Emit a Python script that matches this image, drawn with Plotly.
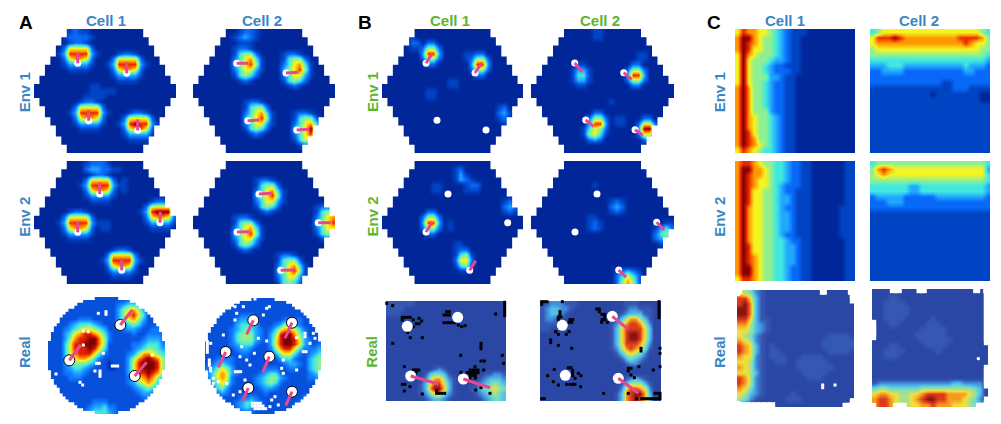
import plotly.graph_objects as go

# ---------- heat levels (0-9), one string per row; spaces only group the digits, short rows are padded ----------
A_E1_C1 = ["00000112110","00000122221","000000122100","000002666620","000013888831000122100",
"000002677620002666620","000001333310013888831","000000111100002677620","000000000000001333310",
"000000000000000111100","000000000011","000000000011111","00000000011110","00000000122100",
"00000002666620","00000013888831000122100","00000002677620002666620","00000001333310013898831",
"00000000111100002678620","00000000000000001333310","00000000000000000111100","",""]
A_E1_C2 = ["00000000 1221","0000000 12321","00000000 1110","0000000 1221","0000000 14552 0000 1221",
"0000000 246741 000 14552","0000000 356851 000 246741","0000000 246631 000 356851","0000000 14542 0000 246631",
"0000000 0121 00000 14542","0000000000000000 0121","","",
"000000000 1221","000000000 14552","000000000 246741 000 1221","000000000 356851 000 14552",
"000000000 246631 000 246741","000000000 14542 0000 356951","000000000 0121 00000 246841",
"000000000000000000 14642","000000000000000000 0121",""]
A_E2_C1 = ["000000000 12221 00","000000000 2332211","00000000 00122100","00000000 02666620 1","00000000 13888831 1",
"00000000 02677620 1","00000000 01333310","00000000 00111100 000 00122100","0000000000000000000 02666620",
"0000 00122100 0000000 13899931","0000 02666620 0000000 02677620","0000 13888831 110 0000 01333310",
"0000 02677620 110 0000 00111100","0000 01333310","0000 00111100","","000000000000 00122100",
"000000000000 02666620","000000000000 13888831","000000000000 02677620","000000000000 01333310","000000000000 00111100",""]
A_E2_C2 = ["","","","00000000000 1221","00000000000 14552","00000000000 246741","00000000000 356851",
"00000000000 246631","00000000000 14542 000000 1221","00000000000 0121 0000000 14552",
"0000000 1221 00000000000 246741","0000000 14552 0000000000 356851","0000000 246741 000000000 246631",
"0000000 356851 000000000 14542","0000000 246631 000000000 0121","0000000 14542","0000000 0121",
"000000000000000 1221","000000000000000 14552","000000000000000 246741","000000000000000 356851",
"000000000000000 246631","000000000000000 14542"]
B_E1_C1 = ["","00000100","00000 22 0220","00000 11 2552","0000000 3883 0000 1 1220","0000000 2552 0000 1 2552",
"0000000 0220 00000 3883","0000000000000000 2552","0000000000000000 0220","000000000000110","000000000000110",
"000000001100","000000001100","","000000000000000000000120","000000000000000000000231","0000000000000000000001210",
"000000000000000000000011","","","","",""]
B_E1_C2 = ["00000000000110","00000000000110","","","0000000000000000000110","0000000000000000000110",
"0000000 0110 000000 0220","0000000 1331 000000 2552","0000000 1441 000000 3883","0000000 1331 000000 2552",
"0000000 0110 000000 0220","","","000000000000001","","0000000000 0220","0000000000 2552 0 11 00 0220",
"0000000000 3883 0 11 00 2662","000000000 14652 00000 3993","000000000 15641 00000 2662",
"000000000 02320 00000 0220","",""]
B_E2_C1 = ["","000000000000012","0000000000000131","00000000000001321","000000000110000122",
"000000000110000111","","0000000000000000000000121","0000000000000000000000232",
"0000000 0220 00000000000 121","0000000 2552","0000000 3883 01","0000000 2552 01","0000000 0220","",
"000000000000011","0000000000000 122","0000000000000 1451","0000000000000 2662","0000000000000 1451",
"0000000000000 0110","",""]
B_E2_C2 = ["","","","","000000000001","","","00000000000000121","00000000000000232","00000000000000121","000000000011",
"00000000001210000000000011","00000000001210000000001342","00000000000000000000002453",
"00000000000000000000002342","00000000000000000000000111","","","","","00000000000000012321",
"00000000000000024642","00000000000000025752"]
C_E1_C1 = ["6877665432111","7997655432110","7987655432110","7986655432110","6976555432110","6965554332110",
"6965543221110","696554322211","696555332110","696554322110","797554322110","797554322110","797554322110",
"797554322110","797555322110","797655432110","797655432110","797655432110","798655432110","798755432110",
"798765432110","687654432110"]
C_E1_C2 = ["4566666666666666666654","6888987777777777888875","6777777777777777787665","5666666666666666666655",
"5555555555555555555554","4444444444444444444443","3334443333333333343332","2233332222222222233222",
"2222222222222222222222","2222222222222112222222","1111111111111112221111","1111111111101111111100",
"1111111111111111111100","1111111111111111111111","1111111111111111111111","1111111111111111111111",
"1111111111111111111111","1111111111111111111111","1111111111111111111111","1111111111111111111111",
"1111111111111111111111","1111111111111111111111"]
C_E2_C1 = ["7887655443221100000011","7997765443221100000011","7987765443221100000011","7987665443221100000011",
"7987665432221100000011","7986655432211100000011","7986655433211100000011","7986655433211100000011",
"7976655432211100000111","7976655433211100000111","7976655433211100000111","7976655433211100000111",
"7976655433211100000111","7976655432211100000111","7976655443221100000011","7986655443321100000011",
"7986655443321100000011","7987655443321100000011","7987655443321100000011","7997655443221100000011",
"7997655443221100000011","6887655443221100000011"]
C_E2_C2 = ["4555555555555555555554","5787666666666666666663","5676666666666666666664","5555555555555555555554",
"4444444334444444444443","4444444334444444444443","2333332222223333333332","2223332222222222222222",
"2222222222222222222222","1111111111111111111111","1111111111111111111111","1111111111111111111111",
"1111111111111111111111","1111111111111111111111","1111111111111111111111","1111111111111111111111",
"1111111111111111111111","1111111111111111111111","1111111111111111111111","1111111111111111111111",
"1111111111111111111111","1111111111111111111111"]
A_R_C1 = ["111111111111111122211111","111111111111112344321111","111111111111113567531111","111111111111113578641111",
"111111222111113567531111","111123444321112345421111","111234566543111233211222","111346788764211112112222",
"111357889975211111123332","111468899975111112234442","111468889864111112345543","111467888642111123577654",
"111356776421111135789875","111345554311011136899985","111234432111001136899985","111223321111111135889875",
"111122211111111124678753","111111111111111123567642","111111111111111112345421","111111111111111111233211",
"111111111111111111122111","111111111222111111111111","111111112334221111111111","111111123444321111111111"]
A_R_C2 = ["111111111111111111111111","111111111111111111111111","111111111111111111111111","111111122211111111111111",
"111111233321111122221111","111111344431112355321111","111112345432124677642111","111112455532135899753111",
"111112455532136899863211","111112344421136899863212","111111233211125788642223","111111122111113566421234",
"112222111111111344211345","123432111111111123321345","235653111111222112211345","246763211112344211111234",
"246762111123455321111223","135652111123454211111112","124531111112332111111111","112321111111211111111111",
"111111122321111111112211","111111234432111111123321","111111234321111111246421","111111122211111111357521"]
B_R_C1 = ["1111110000","1111000000","1110000000","","","","","","","","","","","000000000012100000000",
"00000000134431000000011221","00000000257752100000123332","00000001368863100001234543","00000001379973100011345654",
"00000001246742100001234543","00000000123321000000123443"]
B_R_C2 = ["11222111000000000011100000","12332210000000000012211100","12332100000000000123331100","12211000000000001357753100",
"11110000000000012578875200","11000000000000013688886300","00000000000000013689986300","00000000000000013689986300",
"00000000000000013688875200","00000000000000012578764100","00000000000000001356542000","00000000000000000134321000",
"00000000000000000012210000","","","00000000000000000012321000","00000000000000000135553100","00000000000000000268876200",
"00000000000000001378997300","00000000000000001378987400"]
C_R_C1 = ["6542100000000000000000","8863100000000000000000","8973100000000000000000","9973100000000000000000",
"9973100000000000000000","8863110000000000000000","7753210000000000000000","6653210000000000000000",
"6542100000000000011110","7652100000000000111111","8763101000000000111111","8763101100000000011110",
"7662101110001111000000","6652100110011111100000","7652100000011111110000","6653100000001111100000",
"8752100000000111000000","8752100000000000000000","7642100000000000000000","6532100000100000000000",
"5421000001110000000000","2100000000000000000000"]
C_R_C2 = ["0000000000000000000000","0001100000000000000000","0011110000000000000000","0011111000000000000000",
"0011111000000000000000","0011110000010000000000","0001100000111000000000","0000000001111100000000",
"0000000011111100000000","0000000001111110000000","0001100000111100000000","0011110000001000000000",
"0011100000000000000000","0000000000000000000000","0000000000000000000000","0000000000000000000000",
"0000000000000000000000","1222222222222223322220","4554444445555555555430","6776655667888877776530",
"7887655678998877765420","7887655667787776665430"]

# ---------- pins: start dot x,y -> line end x,y (page pixels) ----------
A_E1_C1_PINS = [(77.7,63.3,77.7,52.7),(126.7,73.3,126.7,62.3),(88.7,120.7,88.7,110),(137.7,130.3,137.7,119.3)]
A_E1_C2_PINS = [(236.7,63.3,248.3,63.3),(286,73,298.3,72.3),(247.7,120.7,259.3,120),(296.7,130,309.3,129.3)]
A_E2_C1_PINS = [(99.7,194,99.7,182.3),(77.7,232.3,77.7,221.7),(160,222.7,160.3,211.7),(121.7,270.3,121.7,260)]
A_E2_C2_PINS = [(259,194,271.7,193.3),(237,232,249.3,231.7),(318.3,222.7,330.7,222.7),(280.7,270.3,293.3,270)]
A_R_C1_PINS = [(69.3,360.3,80.7,345),(120.3,325,132.3,310),(134.7,376,146.7,362.3)]
A_R_C2_PINS = [(253.3,320.3,246.7,334.3),(292,322.7,285,338.3),(225.7,352,218.3,367.3),(269.3,356.7,262.7,372.3),(248.3,388,242.3,401.7),(292,391.7,285.7,405.7)]
B_E1_C1_PINS = [(426,63.3,432.3,53.3),(475,73,481.7,62.7),(437,120.3,437,120.3),(486,130,486,130)]
B_E1_C2_PINS = [(574.7,63,582.3,71.7),(623.7,72.7,631.7,79.3),(585.7,120,594,126.7),(635,129.7,642.7,135.3)]
B_E2_C1_PINS = [(426,232,432.7,221.7),(469.7,270.3,475.7,260.7),(448,194,448,194),(507.7,222.7,507.7,222.7)]
B_E2_C2_PINS = [(656.7,222.3,664,230),(618.7,270,626,277.3),(597,194,597,194),(575,232,575,232)]
B_R_C1_PINS = [(410.7,376,438.3,384),(463.3,379,490,387.7),(407.3,326.3,407.3,326.3),(457.7,317.3,457.7,317.3)]
B_R_C2_PINS = [(612.3,316.3,628.3,329.3),(618.3,378.3,638.3,393.3),(562.3,325.3,562.3,325.3),(565.3,375.3,565.3,375.3)]

# ---------- empty / unvisited bins, in crop coordinates (3x, offset) ----------
A_R_C1_HOLES = [(295,85),(318,80),(318,88),(250,138),(265,140),(290,235),(298,235),(345,243),(353,243),(337,243),(310,205),(168,267),(300,258),(300,266),(300,274),(285,258),(240,292),(248,300),(457,210),(250,180)]
A_R_C2_HOLES = [(705,65),(730,65),(765,42),(800,70),(808,65),(710,85),(705,105),(790,90),(622,170),(622,178),(622,186),(622,194),(622,202),(632,175),(628,225),(628,233),(628,241),(632,250),(632,258),(640,280),(655,290),(680,295),(620,270),(640,295),(725,185),(775,160),(800,168),(720,215),(740,225),(750,240),(763,205),(850,225),(845,250),(850,265),(890,255),(706,260),(714,260),(722,260),(735,285),(940,145),(945,160),(915,145),(915,155),(930,175),(910,200),(918,200),(890,158),(670,150),(815,345),(825,335),(835,360),(810,365),(720,320),(700,330),(757,355),(765,355),(773,355),(781,355),(757,363),(765,363),(773,363),(781,363),(789,363),(765,371),(773,371),(781,371),(789,371),(797,371)]
B_R_C1_BLACK = [(172,97),(180,97),(188,97),(196,97),(172,105),(205,105),(222,100),(230,108),(222,116),(214,116),(205,125),(188,142),(196,158),(232,158),(143,62),(125,55),(143,175),(305,80),(313,80),(297,90),(305,90),(313,90),(297,113),(305,113),(313,113),(321,113),(330,113),(340,120),(350,125),(360,122),(452,87),(479,52),(479,60),(479,68),(479,76),(479,84),(479,92),(408,175),(408,183),(408,191),(347,211),(472,211),(408,228),(418,228),(178,245),(416,255),(476,235),(390,245),(205,255),(213,255),(221,255),(213,263),(172,298),(180,298),(195,305),(178,318),(232,327),(275,325),(283,325),(291,325),(299,325),(275,317),(375,255),(383,255),(391,255),(399,255),(367,263),(375,263),(383,263),(391,263),(399,263),(375,271),(383,271),(391,271),(375,279),(391,279),(348,262),(392,315),(408,308),(435,325)]
B_R_C2_BLACK = [(590,50),(598,50),(606,50),(590,58),(652,50),(942,50),(942,58),(942,66),(942,74),(942,82),(942,90),(942,98),(645,80),(645,88),(640,96),(648,96),(640,104),(675,104),(683,104),(672,112),(680,112),(632,140),(640,148),(664,148),(672,140),(617,165),(617,173),(640,181),(680,190),(755,72),(763,72),(763,80),(771,88),(779,88),(779,96),(771,104),(779,104),(787,112),(770,112),(888,190),(888,198),(945,190),(945,205),(850,250),(858,250),(850,258),(882,245),(945,245),(925,255),(858,270),(868,278),(670,248),(678,248),(683,256),(683,264),(683,272),(690,280),(675,298),(683,298),(690,298),(665,298),(628,253),(608,272),(625,290),(640,300),(700,265),(708,272),(707,305),(776,325),(930,325),(938,325),(945,325),(945,333),(945,341),(890,341),(898,341),(906,341),(914,341),(922,341),(930,341),(938,341),(590,341),(598,341),(875,341),(850,325)]
C_R_C1_EDGE = [(140,17),(146,17),(140,23),(140,358),(146,362),(155,362),(170,362),(185,362),(200,362),(215,362),(230,362),(245,362),(400,19),(490,19),(490,25),(484,19),(490,31),(490,45),(490,350),(490,358),(490,364),(484,364),(476,364),(468,364)]
C_R_C1_HOLES = [(398,300),(398,308),(435,300)]
C_R_C2_EDGE = [(610,14),(625,14),(690,14),(700,14),(860,14),(890,14),(892,20),(892,30),(892,40),(892,50),(892,60),(892,70),(892,80),(892,90),(892,100),(892,110),(892,120),(892,130),(892,140),(892,150),(892,160),(892,170),(892,250),(892,260),(892,270),(892,280),(892,290),(892,300),(892,345),(892,355),(892,364),(884,364),(876,364),(868,364),(548,115),(548,125),(548,135),(548,145),(548,155),(548,364),(620,364),(630,364),(640,364)]
C_R_C2_HOLES = [(865,221)]

# ---------- arena outlines: (left inset, row count) ----------
HEX_OUTLINE = [(6,3),(5,3),(4,4),(3,3),(2,4),(1,3),(0,5),(1,3),(2,4),(3,3),(4,4),(5,3),(6,3)]
CIRCLE_OUTLINE = [(16,1),(12,1),(10,1),(9,1),(7,1),(6,1),(5,1),(4,2),(3,1),(2,2),(1,3),(0,10),(1,3),(2,2),(3,1),(4,2),(5,1),(6,1),(7,1),(9,1),(10,1),(12,1),(16,1)]

def scale(cols):
    return [[i/9, c] for i, c in enumerate(cols)]
SIM = scale(["#00269a","#0044c4","#0868f8","#20a8ff","#40e8e0","#90f090","#f4f420","#ff9800","#e82800","#800000"])
BRIGHT = scale(["#0030b0","#0650dc","#1078ff","#20a8ff","#40e8e0","#90f090","#f4f420","#ff9800","#e02000","#800000"])
MUTED = scale(["#2b47a5","#3558b2","#3f8fe0","#55c0e0","#70dcc8","#a6e08a","#f2e03a","#f59a20","#dc3a1a","#8c1410"])

def grid(rows, ncols):
    out = []
    for r in rows:
        r = (r.replace(" ", "") + "0"*ncols)[:ncols]
        out.append([int(c) for c in r])
    return out

def outline_polys(outline, ncols, x0, x1, y0, y1):
    """White polygons covering everything outside the stepped arena outline."""
    total = sum(n for _, n in outline)
    dx = (x1-x0)/ncols; dy = (y1-y0)/total
    lx, rx, ys = [], [], []
    y = y0
    for inset, n in outline:
        lx += [x0+inset*dx, x0+inset*dx]
        rx += [x1-inset*dx, x1-inset*dx]
        ys += [y, y+n*dy]
        y += n*dy
    pad = 2
    px = [x0-pad, lx[0]]+lx+[lx[-1], x0-pad, None, x1+pad, rx[0]]+rx+[rx[-1], x1+pad]
    py = [y0-pad, y0-pad]+ys+[y1+pad, y1+pad, None, y0-pad, y0-pad]+ys+[y1+pad, y1+pad]
    return px, py

BLUE = "#3a86c4"; GREEN = "#5cb52f"
PANELS = [
 (A_E1_C1,26,34,176,29,153,SIM,HEX_OUTLINE,A_E1_C1_PINS),
 (A_E1_C2,26,193,335,29,153,SIM,HEX_OUTLINE,A_E1_C2_PINS),
 (A_E2_C1,26,34,176,161,284,SIM,HEX_OUTLINE,A_E2_C1_PINS),
 (A_E2_C2,26,193,335,161,284,SIM,HEX_OUTLINE,A_E2_C2_PINS),
 (A_R_C1,24,48,165,297,414,BRIGHT,CIRCLE_OUTLINE,A_R_C1_PINS),
 (A_R_C2,24,205,321,298,414,BRIGHT,CIRCLE_OUTLINE,A_R_C2_PINS),
 (B_E1_C1,26,382,523,29,153,SIM,HEX_OUTLINE,B_E1_C1_PINS),
 (B_E1_C2,26,531,674,29,153,SIM,HEX_OUTLINE,B_E1_C2_PINS),
 (B_E2_C1,26,382,523,161,284,SIM,HEX_OUTLINE,B_E2_C1_PINS),
 (B_E2_C2,26,531,674,161,284,SIM,HEX_OUTLINE,B_E2_C2_PINS),
 (B_R_C1,26,386,506,301,401,MUTED,None,B_R_C1_PINS),
 (B_R_C2,26,540,661,301,401,MUTED,None,B_R_C2_PINS),
 (C_E1_C1,22,735,855,29,153,SIM,None,[]),
 (C_E1_C2,22,870,990,29,153,SIM,None,[]),
 (C_E2_C1,22,735,855,161,281,SIM,None,[]),
 (C_E2_C2,22,870,990,161,281,SIM,None,[]),
 (C_R_C1,22,737,854,290,407,MUTED,None,[]),
 (C_R_C2,22,872,988,289,407,MUTED,None,[]),
]
OVERLAYS = {
 4:[(A_R_C1_HOLES,"white",3,0,285)], 5:[(A_R_C2_HOLES,"white",3,0,285)],
 10:[(B_R_C1_BLACK,"black",3,345,285)], 11:[(B_R_C2_BLACK,"black",3,345,285)],
 16:[(C_R_C1_EDGE,"white",7,690,285),(C_R_C1_HOLES,"white",3,690,285)],
 17:[(C_R_C2_EDGE,"white",7,690,285),(C_R_C2_HOLES,"white",3,690,285)],
}
W, H = 1001, 424
PAD = 4   # axes extend a little past each heatmap so the white outline is not clipped at its edge
fig = go.Figure()
layout_axes = {}
for i, (rows, nc, x0, x1, y0, y1, cs, outline, pins) in enumerate(PANELS):
    k = "" if i == 0 else str(i+1)
    xa, ya = "x"+k, "y"+k
    layout_axes["xaxis"+k] = dict(domain=[(x0-PAD)/W, (x1+PAD)/W], range=[x0-PAD, x1+PAD], visible=False, fixedrange=True, anchor=ya)
    layout_axes["yaxis"+k] = dict(domain=[1-(y1+PAD)/H, 1-(y0-PAD)/H], range=[y1+PAD, y0-PAD], visible=False, fixedrange=True, anchor=xa)
    z = grid(rows, nc)
    dx = (x1-x0)/nc; dy = (y1-y0)/len(z)
    fig.add_trace(go.Heatmap(z=z, x0=x0+dx/2, dx=dx, y0=y0+dy/2, dy=dy, zmin=0, zmax=9, colorscale=cs,
                             zsmooth="best", showscale=False, hoverinfo="skip", xaxis=xa, yaxis=ya))
    if outline:
        mc = 26 if outline is HEX_OUTLINE else 40
        px, py = outline_polys(outline, mc, x0, x1, y0, y1)
        fig.add_trace(go.Scatter(x=px, y=py, mode="lines", fill="toself", fillcolor="white",
                                 line=dict(width=0, color="white"), hoverinfo="skip", xaxis=xa, yaxis=ya, cliponaxis=False))
    for pts, col, sz, ox, oy in OVERLAYS.get(i, []):
        fig.add_trace(go.Scatter(x=[p[0]/3+ox for p in pts], y=[p[1]/3+oy for p in pts], mode="markers",
                                 marker=dict(symbol="square", color=col, size=sz, line=dict(width=0)),
                                 hoverinfo="skip", xaxis=xa, yaxis=ya, cliponaxis=False))
    if pins:
        real = rows is A_R_C1 or rows is A_R_C2
        big = real or rows is B_R_C1 or rows is B_R_C2
        fig.add_trace(go.Scatter(x=[p[0] for p in pins], y=[p[1] for p in pins], mode="markers",
                                 marker=dict(color="white", size=11 if big else 7,
                                             line=dict(color="black", width=1 if real else 0)),
                                 hoverinfo="skip", xaxis=xa, yaxis=ya, cliponaxis=False))
        lx, ly = [], []
        for p in pins:
            if (p[0], p[1]) != (p[2], p[3]):
                lx += [p[0], p[2], None]; ly += [p[1], p[3], None]
        fig.add_trace(go.Scatter(x=lx, y=ly, mode="lines", line=dict(color="#e8468f", width=3),
                                 hoverinfo="skip", xaxis=xa, yaxis=ya, cliponaxis=False))

FONT = "Liberation Sans"
def label(text, x, y, color, size=15, angle=0):
    return dict(text=f"<b>{text}</b>", x=x/W, y=1-y/H, xref="paper", yref="paper", showarrow=False,
                xanchor="center", yanchor="middle", textangle=angle, font=dict(family=FONT, size=size, color=color))
ann = [label("A",26,23,"black",19), label("B",365,22,"black",19), label("C",714,23,"black",19)]
for t, x, c in [("Cell 1",106,BLUE),("Cell 2",261.7,BLUE),("Cell 1",450,GREEN),("Cell 2",600,GREEN),("Cell 1",785,BLUE),("Cell 2",919,BLUE)]:
    ann.append(label(t, x, 20.7, c, 15))
for x, c in [(24.3,BLUE),(372,GREEN),(719.3,BLUE)]:
    for t, y in [("Env 1",92),("Env 2",216.5),("Real",351.7)]:
        ann.append(label(t, x, y, c, 15, -90))

fig.update_layout(width=W, height=H, margin=dict(l=0,r=0,t=0,b=0), paper_bgcolor="white", plot_bgcolor="white",
                  showlegend=False, annotations=ann, **layout_axes)
fig.write_html("out.html", config=dict(displayModeBar=False),
               post_script="document.body.style.margin='0';document.documentElement.style.overflow='hidden';")
